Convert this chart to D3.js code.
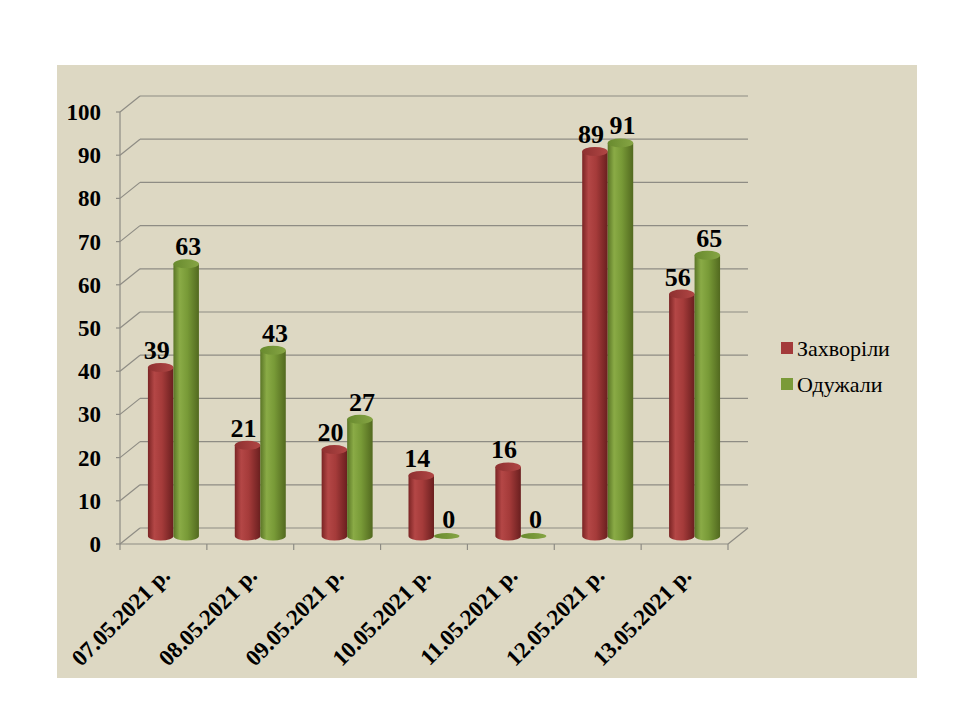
<!DOCTYPE html>
<html>
<head>
<meta charset="utf-8">
<script src="https://cdn.jsdelivr.net/npm/d3@7"></script>
<style>
  body { margin: 0; background: #fff; }
</style>
</head>
<body>
<div id="container"></div>
<script>
const categories = ["07.05.2021 р.", "08.05.2021 р.", "09.05.2021 р.", "10.05.2021 р.", "11.05.2021 р.", "12.05.2021 р.", "13.05.2021 р."];
const seriesNames = ["Захворіли", "Одужали"];
const sick = [39, 21, 20, 14, 16, 89, 56];
const recovered = [63, 43, 27, 0, 0, 91, 65];
const yTicks = [0, 10, 20, 30, 40, 50, 60, 70, 80, 90, 100];

const width = 960, height = 720;
const plot = { left: 120, right: 728, top: 112, bottom: 544 };
const depth = { dx: 20, dy: -16 };   // 3d offset of back wall
const gridColor = "#8e8c84";
const serif = "'Liberation Serif', 'DejaVu Serif', serif";

const svg = d3.select("#container").append("svg")
    .attr("width", width)
    .attr("height", height)
    .attr("font-family", serif);

svg.append("rect").attr("width", width).attr("height", height).attr("fill", "#fff");
svg.append("rect")
    .attr("x", 57).attr("y", 65)
    .attr("width", 860).attr("height", 613)
    .attr("fill", "#ddd8c3");

let x = d3.scaleBand().domain(categories).range([plot.left, plot.right]);
let y = d3.scaleLinear().domain([0, 100]).range([plot.bottom, plot.top]);
let inner = d3.scaleBand().domain(seriesNames).range([-25.5, 25.5]);

// gradients for the cylinders
let defs = svg.append("defs");
function addGradient(id, stops) {
    let g = defs.append("linearGradient").attr("id", id)
        .attr("x1", "0%").attr("x2", "100%").attr("y1", "0%").attr("y2", "0%");
    stops.forEach(s => g.append("stop").attr("offset", s[0]).attr("stop-color", s[1]));
}
addGradient("redBody", [["0%", "#7a2424"], ["25%", "#b44746"], ["55%", "#a53b3a"], ["100%", "#6a1f1f"]]);
addGradient("greenBody", [["0%", "#5a7526"], ["25%", "#8aab46"], ["55%", "#789a37"], ["100%", "#52691f"]]);
addGradient("redTop", [["0%", "#8e3030"], ["100%", "#b04644"]]);
addGradient("greenTop", [["0%", "#688a2e"], ["100%", "#86a544"]]);
const colors = {
    "Захворіли": { body: "url(#redBody)", top: "url(#redTop)", legend: "#a33a3a", shift: -4 },
    "Одужали": { body: "url(#greenBody)", top: "url(#greenTop)", legend: "#7a9a38", shift: 2 }
};

// back wall grid lines with diagonals to the front axis
let grid = svg.append("g").attr("stroke", gridColor).attr("stroke-width", 1.2).attr("fill", "none");
yTicks.forEach(t => {
    grid.append("line")
        .attr("x1", plot.left + depth.dx).attr("x2", plot.right + depth.dx)
        .attr("y1", y(t) + depth.dy).attr("y2", y(t) + depth.dy);
    grid.append("line")
        .attr("x1", plot.left).attr("x2", plot.left + depth.dx)
        .attr("y1", y(t)).attr("y2", y(t) + depth.dy);
    grid.append("line")
        .attr("x1", plot.left - 4).attr("x2", plot.left)
        .attr("y1", y(t)).attr("y2", y(t));
});
// front y axis and floor
grid.append("line").attr("x1", plot.left).attr("x2", plot.left).attr("y1", plot.top).attr("y2", plot.bottom);
grid.append("line").attr("x1", plot.left).attr("x2", plot.right).attr("y1", plot.bottom).attr("y2", plot.bottom);
grid.append("line")
    .attr("x1", plot.right).attr("x2", plot.right + depth.dx)
    .attr("y1", plot.bottom).attr("y2", plot.bottom + depth.dy);
categories.concat([null]).forEach((c, i) => {
    let xx = c ? x(c) : plot.right;
    grid.append("line").attr("x1", xx).attr("x2", xx).attr("y1", plot.bottom).attr("y2", plot.bottom + 6);
});

// y tick labels
svg.append("g").selectAll("text")
    .data(yTicks)
    .enter().append("text")
    .attr("x", 101)
    .attr("y", d => y(d))
    .attr("dy", "0.35em")
    .attr("text-anchor", "end")
    .attr("font-size", 23)
    .attr("font-weight", "bold")
    .text(d => d);

// x tick labels, rotated
svg.append("g").selectAll("text")
    .data(categories)
    .enter().append("text")
    .attr("transform", d => `translate(${x(d) + x.bandwidth() / 2 + 8},577) rotate(-45)`)
    .attr("text-anchor", "end")
    .attr("font-size", 23)
    .attr("font-weight", "bold")
    .text(d => d);

// cylinders
const rx = 12.75, ry = 4.5;
let rows = [];
categories.forEach((c, i) => {
    rows.push({ cat: c, series: seriesNames[0], value: sick[i] });
    rows.push({ cat: c, series: seriesNames[1], value: recovered[i] });
});
let bars = svg.append("g");
rows.forEach(d => {
    let cx = x(d.cat) + x.bandwidth() / 2 + depth.dx / 2 + inner(d.series) + inner.bandwidth() / 2;
    let base = y(0) + depth.dy / 2;
    let top = y(d.value) + depth.dy / 2;
    let x0 = cx - rx, x1 = cx + rx;
    if (d.value > 0) {
        bars.append("path")
            .attr("d", `M${x0},${top} L${x0},${base} A${rx},${ry} 0 0 0 ${x1},${base} L${x1},${top} Z`)
            .attr("fill", colors[d.series].body);
    }
    bars.append("ellipse")
        .attr("cx", cx).attr("cy", top)
        .attr("rx", rx).attr("ry", d.value > 0 ? ry : 3)
        .attr("fill", colors[d.series].top);
    bars.append("text")
        .attr("x", cx + colors[d.series].shift)
        .attr("y", top - ry - 4)
        .attr("text-anchor", "middle")
        .attr("font-size", 26)
        .attr("font-weight", "bold")
        .text(d.value);
});

// legend
let legend = svg.append("g").attr("transform", "translate(781,342)");
seriesNames.forEach((s, i) => {
    legend.append("rect")
        .attr("x", 0).attr("y", i * 36)
        .attr("width", 12).attr("height", 12)
        .attr("fill", colors[s].legend);
    legend.append("text")
        .attr("x", 16).attr("y", i * 36 + 6)
        .attr("dy", "0.35em")
        .attr("font-size", 22)
        .text(s);
});
</script>
</body>
</html>
